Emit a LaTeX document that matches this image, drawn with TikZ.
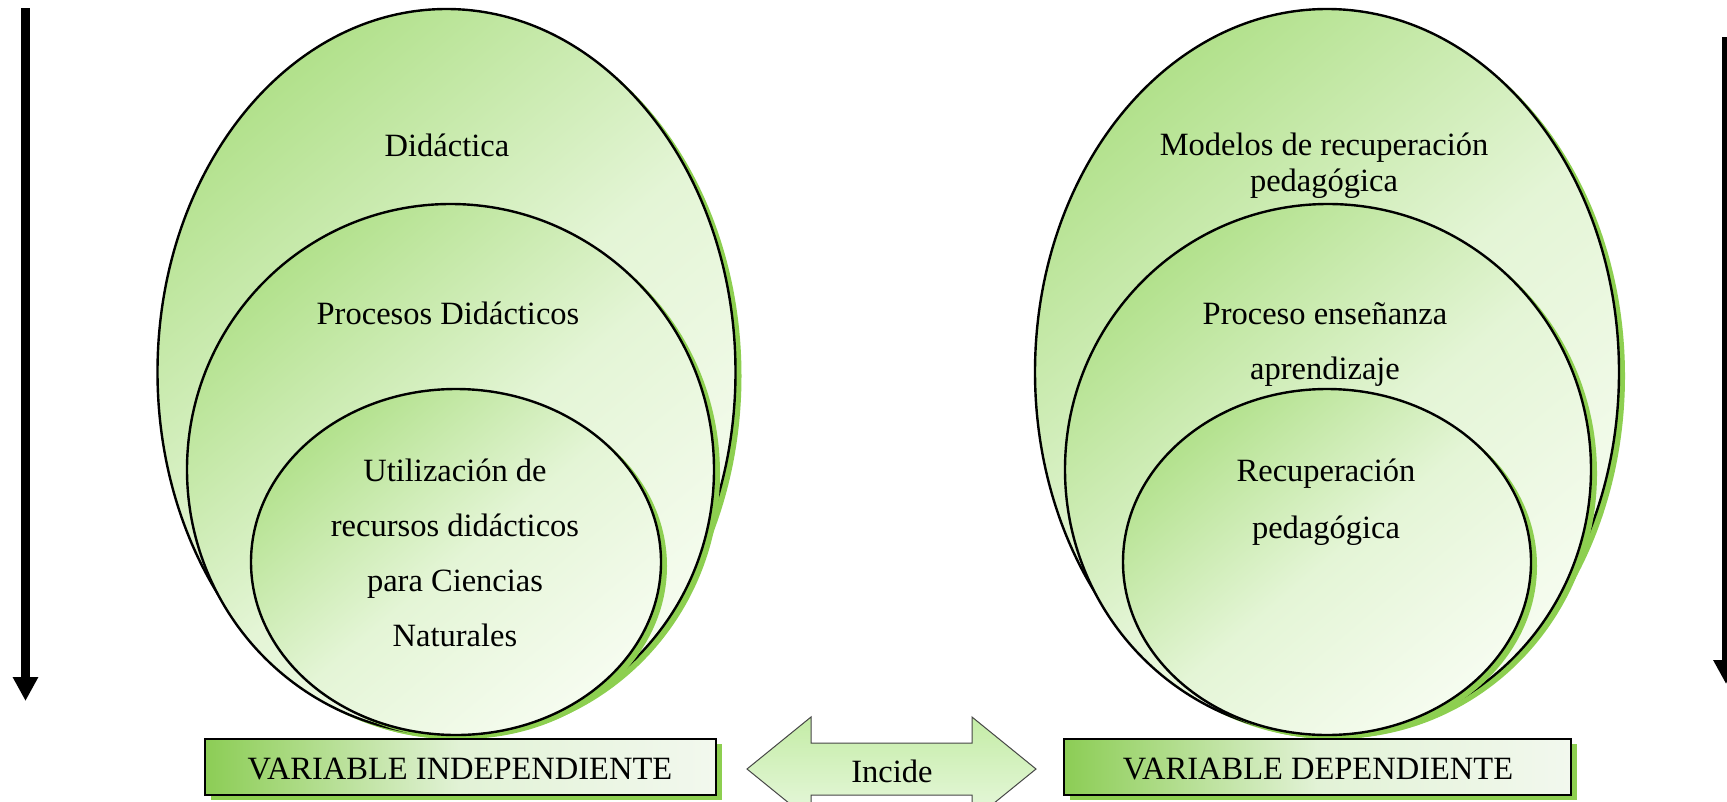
\documentclass[tikz,border=0pt]{standalone}
\usepackage{fontspec}
\setmainfont{Liberation Serif}
\usetikzlibrary{shapes.geometric,shadows,arrows.meta}
\definecolor{gshadow}{RGB}{141,207,80}
\definecolor{gtop}{RGB}{178,225,140}
\definecolor{gmidc}{RGB}{228,245,214}
\definecolor{gbot}{RGB}{246,252,240}
\definecolor{bxg}{RGB}{140,205,85}
\definecolor{bxm}{RGB}{226,242,214}
\definecolor{bxl}{RGB}{242,248,238}
\definecolor{arrtop}{RGB}{196,236,166}
\definecolor{arrbot}{RGB}{232,248,222}
\definecolor{arrline}{RGB}{70,70,70}
\tikzset{
  bubble/.style={ellipse, draw=black, line width=2.4pt, inner sep=0pt,
     top color=gtop, bottom color=gbot, middle color=gmidc, shading angle=40,
     drop shadow={shadow xshift=6pt, shadow yshift=-4pt, fill=gshadow, opacity=1}},
  varbox/.style={draw=black, line width=2.2pt, inner sep=0pt, minimum height=56pt,
     left color=bxg, right color=bxl, middle color=bxm,
     drop shadow={shadow xshift=6pt, shadow yshift=-5pt, fill=gshadow, opacity=1}},
  incarrow/.style={draw=arrline, line width=1pt, top color=arrtop, bottom color=arrbot},
  txt/.style={font=\fontsize{32.5}{38}\selectfont, inner sep=0pt, anchor=base, align=center},
  varrow/.style={line width=9pt, -{Triangle[length=24pt, width=24pt]}},
}
\begin{document}
\begin{tikzpicture}[x=1pt,y=-1pt]
\fill[white] (0,0) rectangle (1727,801);
\useasboundingbox (0,0) rectangle (1727,801);

% left group
\node[bubble, minimum width=578pt, minimum height=726pt] (lo) at (446.5,372) {};
\node[bubble, minimum width=527pt, minimum height=531pt] (lm) at (450.5,469.5) {};
\node[bubble, minimum width=410pt, minimum height=346pt] (li) at (456,562) {};
\node[txt] (t1) at (447,156) {Didáctica};
\node[txt] (t2) at (448,324) {Procesos Didácticos};
\node[txt, font=\fontsize{32.5}{55}\selectfont] (t3) at (455,646) {Utilización de\\recursos didácticos\\para Ciencias\\Naturales};

% right group
\node[bubble, minimum width=584pt, minimum height=726pt] (ro) at (1327,372) {};
\node[bubble, minimum width=526pt, minimum height=531pt] (rm) at (1328,469.5) {};
\node[bubble, minimum width=408pt, minimum height=346pt] (ri) at (1327,562) {};
\node[txt, font=\fontsize{32.5}{36}\selectfont] (r1) at (1324,191) {Modelos de recuperación\\pedagógica};
\node[txt, font=\fontsize{32.5}{55}\selectfont] (r2) at (1325,379) {Proceso enseñanza\\aprendizaje};
\node[txt, font=\fontsize{32.5}{57}\selectfont] (r3) at (1326,538) {Recuperación\\pedagógica};

% boxes
\node[varbox, minimum width=511pt] (vi) at (460.5,767) {};
\node[txt] (vit) at (460,779) {VARIABLE INDEPENDIENTE};
\node[varbox, minimum width=507pt] (vd) at (1317.5,767) {};
\node[txt] (vdt) at (1318,779) {VARIABLE DEPENDIENTE};

% incide arrow
\path[incarrow] (747,769) -- (811,717) -- (811,743) -- (972,743) -- (972,717)
  -- (1036,769) -- (972,821) -- (972,795) -- (811,795) -- (811,821) -- cycle;
\node[txt] (inc) at (892,782) {Incide};

% vertical arrows
\coordinate (la1) at (25.5,8);
\coordinate (la2) at (25.5,701);
\draw[varrow] (la1) -- (la2);
\coordinate (ra1) at (1726,37);
\coordinate (ra2) at (1726,684);
\draw[varrow] (ra1) -- (ra2);
\end{tikzpicture}
\end{document}
